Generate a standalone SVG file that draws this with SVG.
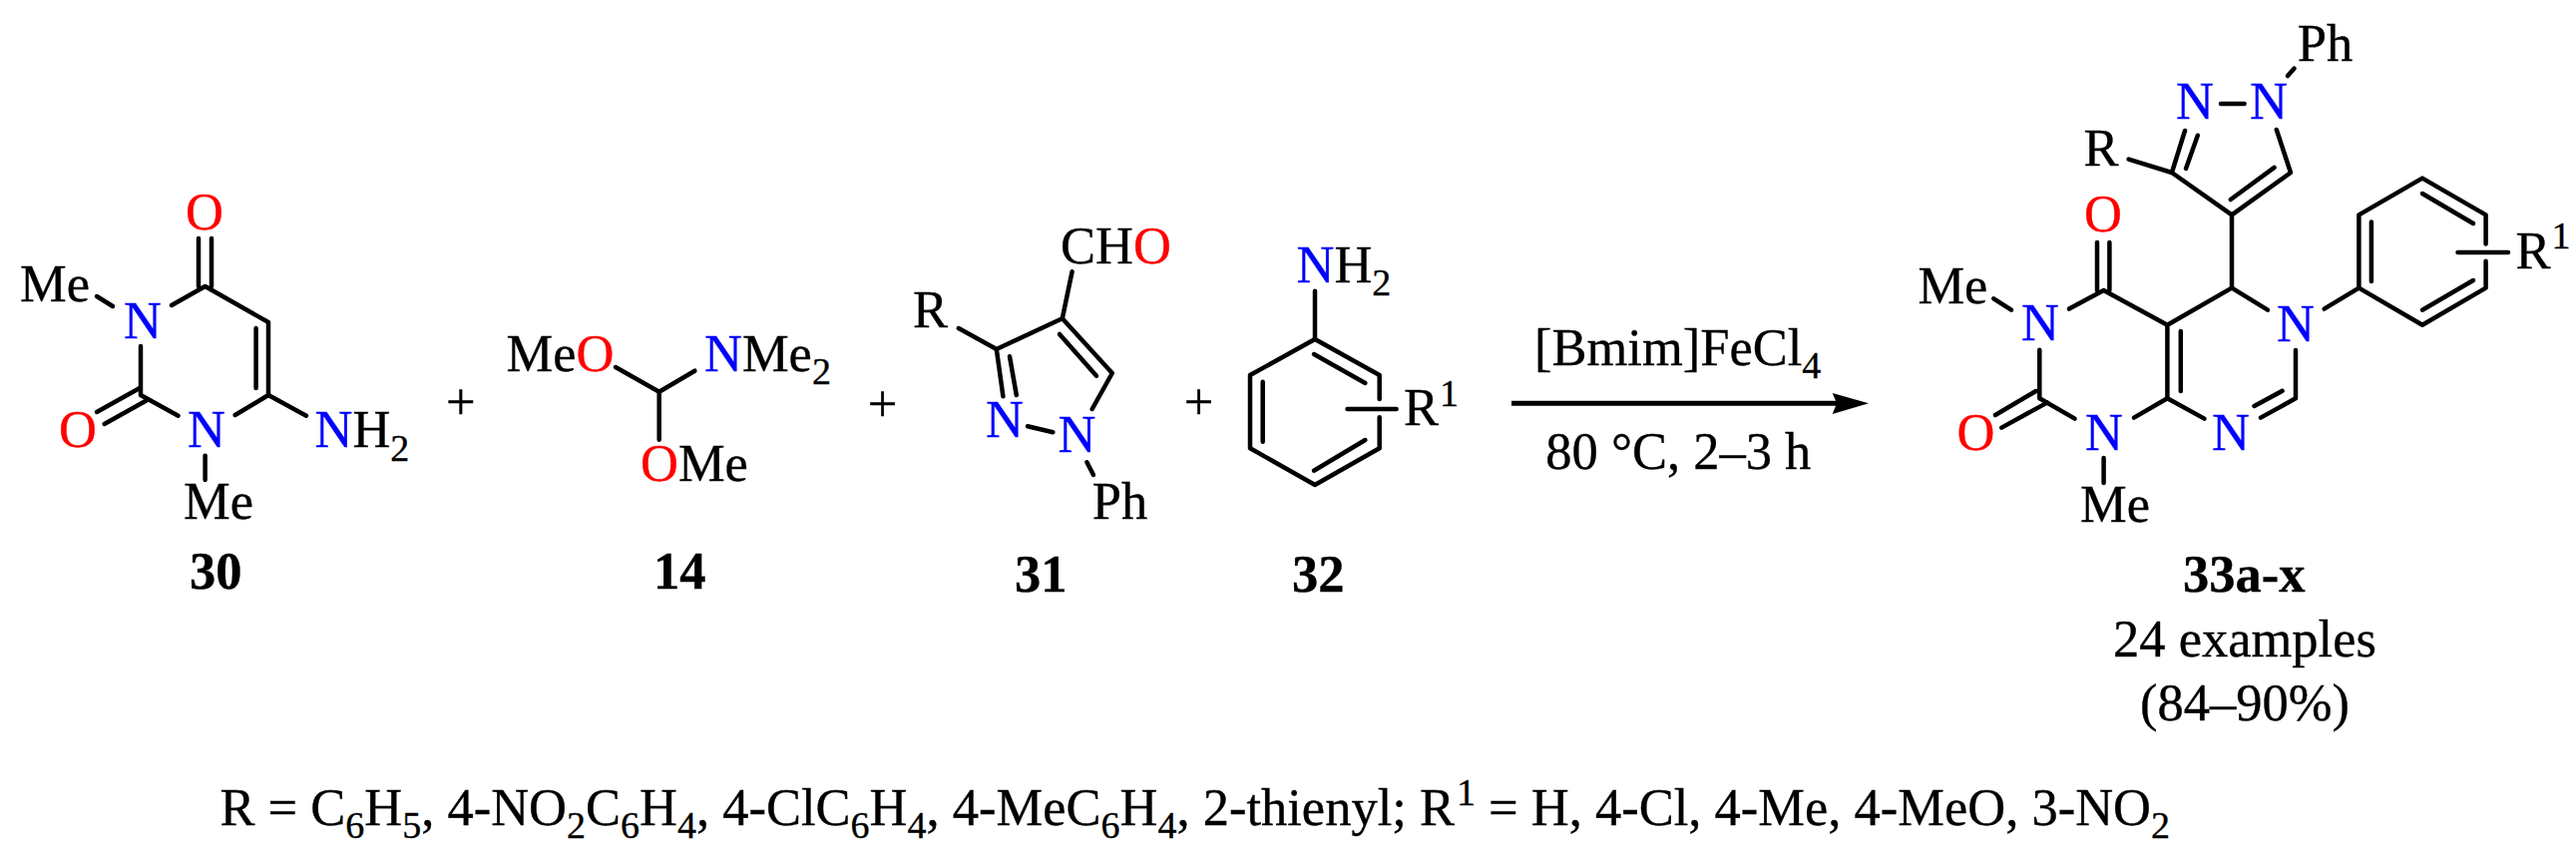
<svg xmlns="http://www.w3.org/2000/svg" width="2582" height="864" viewBox="0 0 2582 864">
<style>
text{font-family:"Liberation Serif","Times New Roman",serif;font-size:52.5px;fill:#000;stroke:#000;stroke-width:.35px}
.b{font-weight:bold}
.N{fill:#0000ff;stroke:#0000ff}
.O{fill:#ff0000;stroke:#ff0000}
.s{font-size:38px}
line,path.l{stroke:#000;stroke-width:4.5px;stroke-linecap:round;stroke-linejoin:round;fill:none}
</style>
<rect width="2582" height="864" fill="#fff"/>
<g id="connectors">
<g id="bonds-30">
<line x1="199" y1="239" x2="199" y2="287"/><line x1="212" y1="239" x2="212" y2="287"/>
<path class="l" d="M172 306L205.600 287L269 323V396L235.700 416"/>
<line x1="256.600" y1="329" x2="256.600" y2="389"/>
<line x1="269" y1="396" x2="307" y2="416.700"/>
<path class="l" d="M141 347V396L178.600 416.700"/>
<line x1="97" y1="413" x2="140" y2="389"/><line x1="104.600" y1="425" x2="148" y2="400.700"/>
<line x1="97" y1="297" x2="113" y2="307"/>
<line x1="205.600" y1="456.700" x2="205.600" y2="481"/>
</g>
<g id="bonds-14">
<path class="l" d="M617 368L660.700 392.700L696.400 371.700"/>
<line x1="660.700" y1="392.700" x2="660.700" y2="440.700"/>
</g>
<g id="bonds-31">
<line x1="1074.600" y1="272.300" x2="1064.800" y2="319.300"/>
<line x1="960.800" y1="329" x2="998.800" y2="350"/>
<path class="l" d="M1005.400 397.300L998.800 350L1064.800 319.300L1114.800 374L1094.700 410"/>
<line x1="1062" y1="335" x2="1099" y2="376.700"/>
<line x1="1012" y1="357.300" x2="1018.800" y2="396"/>
<line x1="1030" y1="427.300" x2="1055.400" y2="433.300"/>
<line x1="1089.400" y1="463.300" x2="1096" y2="476"/>
</g>
<g id="bonds-32">
<path class="l" d="M1382.700 400V376L1318 340L1253 376V449.300L1318 486L1382.700 449.300V418.300"/>
<line x1="1350.500" y1="410" x2="1399.600" y2="410"/>
<line x1="1265.700" y1="382.700" x2="1265.700" y2="442.700"/>
<line x1="1317" y1="355" x2="1368.400" y2="384"/>
<line x1="1368.400" y1="441" x2="1317" y2="471.700"/>
<line x1="1318" y1="291.700" x2="1318" y2="340"/>
</g>
<g id="reaction-arrow">
<line x1="1515" y1="404.300" x2="1850" y2="404.300" style="stroke-width:5px;stroke-linecap:butt"/>
<path d="M1873 404.300L1836.700 394L1841 404.300L1836.700 415Z" fill="#000"/>
</g>
<g id="bonds-33">
<line x1="2293" y1="76" x2="2299.600" y2="68.600"/>
<line x1="2226" y1="104" x2="2249.600" y2="104"/>
<path class="l" d="M2190 131L2176.900 173L2237 215.400L2296 173L2281.800 130"/>
<line x1="2202.800" y1="135.700" x2="2191" y2="169"/>
<line x1="2279.600" y1="167.900" x2="2235.800" y2="200"/>
<line x1="2133.600" y1="159.600" x2="2176.900" y2="173"/>
<line x1="2237" y1="215.400" x2="2237" y2="288.600"/>
<path class="l" d="M2272.900 310.700L2237 288.600L2172.400 325.700V399.300L2209.500 419.600"/>
<line x1="2185.800" y1="332" x2="2185.800" y2="392"/>
<line x1="2329.600" y1="309.600" x2="2364.400" y2="288.600"/>
<path class="l" d="M2491.600 244.600V215.400L2428 178.600L2364.400 215.400V288.600L2428 325.700L2491.600 288.600V261.800"/>
<line x1="2463.500" y1="252.900" x2="2514" y2="252.900"/>
<line x1="2376.900" y1="222.500" x2="2376.900" y2="282"/>
<line x1="2428" y1="194" x2="2479" y2="224"/>
<line x1="2479" y1="281" x2="2428" y2="310.700"/>
<line x1="2102" y1="243" x2="2102" y2="291"/><line x1="2114.400" y1="243" x2="2114.400" y2="291"/>
<path class="l" d="M2074 309.600L2108.600 291L2172.400 325.700"/>
<line x1="1998.300" y1="299.300" x2="2016" y2="310.700"/>
<path class="l" d="M2044.300 350.700V399.300L2079.600 419.600"/>
<line x1="2000" y1="416" x2="2040.700" y2="392"/>
<line x1="2006.300" y1="428.600" x2="2051.900" y2="403.600"/>
<line x1="2139" y1="418.600" x2="2172.400" y2="399.300"/>
<path class="l" d="M2266 418.600L2301 399.300V351"/>
<line x1="2259.500" y1="407" x2="2287.600" y2="391.800"/>
<line x1="2108.600" y1="459" x2="2108.600" y2="484"/>
</g>
</g>
<g id="compound-30">
<text x="186" y="229.500" class="O">O</text>
<text x="20" y="301.700">Me</text>
<text x="124" y="338.500" class="N">N</text>
<text x="59" y="448" class="O">O</text>
<text x="188" y="447.700" class="N">N</text>
<text x="315.500" y="447.700"><tspan class="N">N</tspan>H<tspan class="s" dy="14">2</tspan></text>
<text x="184" y="520">Me</text>
<text x="190" y="590" class="b">30</text>
</g>
<g id="plus-1"><text x="446.900" y="419.500">+</text></g>
<g id="compound-14">
<text x="507.600" y="371.700">Me<tspan class="O">O</tspan></text>
<text x="706" y="371.700"><tspan class="N">N</tspan>Me<tspan class="s" dy="13">2</tspan></text>
<text x="642" y="481.700"><tspan class="O">O</tspan>Me</text>
<text x="655" y="590" class="b">14</text>
</g>
<g id="plus-2"><text x="869.700" y="422">+</text></g>
<g id="compound-31">
<text x="1063" y="264.300">CH<tspan class="O">O</tspan></text>
<text x="915" y="328.300">R</text>
<text x="988" y="437.700" class="N">N</text>
<text x="1060.500" y="452.700" class="N">N</text>
<text x="1094.700" y="520">Ph</text>
<text x="1017" y="592.700" class="b">31</text>
</g>
<g id="plus-3"><text x="1186.800" y="419.500">+</text></g>
<g id="compound-32">
<text x="1299.500" y="282.700"><tspan class="N">N</tspan>H<tspan class="s" dy="13">2</tspan></text>
<text x="1407" y="425.700">R<tspan class="s" dy="-19" dx="1">1</tspan></text>
<text x="1295" y="592.700" class="b">32</text>
</g>
<g id="conditions">
<text x="1538" y="366">[Bmim]FeCl<tspan class="s" dy="13">4</tspan></text>
<text x="1549.300" y="470">80 °C, 2–3 h</text>
</g>
<g id="compound-33">
<text x="2302.800" y="61.400">Ph</text>
<text x="2255" y="119" class="N">N</text>
<text x="2181" y="119" class="N">N</text>
<text x="2088.500" y="166">R</text>
<text x="2089" y="232" class="O">O</text>
<text x="1922.400" y="304.300">Me</text>
<text x="2026" y="341" class="N">N</text>
<text x="2282" y="341.800" class="N">N</text>
<text x="1961.600" y="451" class="O">O</text>
<text x="2090" y="450.700" class="N">N</text>
<text x="2217" y="450.700" class="N">N</text>
<text x="2085" y="523">Me</text>
<text x="2521.500" y="268.600">R<tspan class="s" dy="-20" dx="1">1</tspan></text>
<text x="2188" y="592.700" class="b">33a-x</text>
<text x="2118" y="657.700">24 examples</text>
<text x="2145" y="722.300">(84–90%)</text>
</g>
<g id="legend">
<text x="220.400" y="826.700">R = C<tspan class="s" dy="13">6</tspan><tspan dy="-13">H</tspan><tspan class="s" dy="13">5</tspan><tspan dy="-13">, 4-NO</tspan><tspan class="s" dy="13">2</tspan><tspan dy="-13">C</tspan><tspan class="s" dy="13">6</tspan><tspan dy="-13">H</tspan><tspan class="s" dy="13">4</tspan><tspan dy="-13">, 4-ClC</tspan><tspan class="s" dy="13">6</tspan><tspan dy="-13">H</tspan><tspan class="s" dy="13">4</tspan><tspan dy="-13">, 4-MeC</tspan><tspan class="s" dy="13">6</tspan><tspan dy="-13">H</tspan><tspan class="s" dy="13">4</tspan><tspan dy="-13">, 2-thienyl; R</tspan><tspan class="s" dy="-20" dx="2">1</tspan><tspan dy="20"> = H, 4-Cl, 4-Me, 4-MeO, 3-NO</tspan><tspan class="s" dy="13">2</tspan></text>
</g>
</svg>
